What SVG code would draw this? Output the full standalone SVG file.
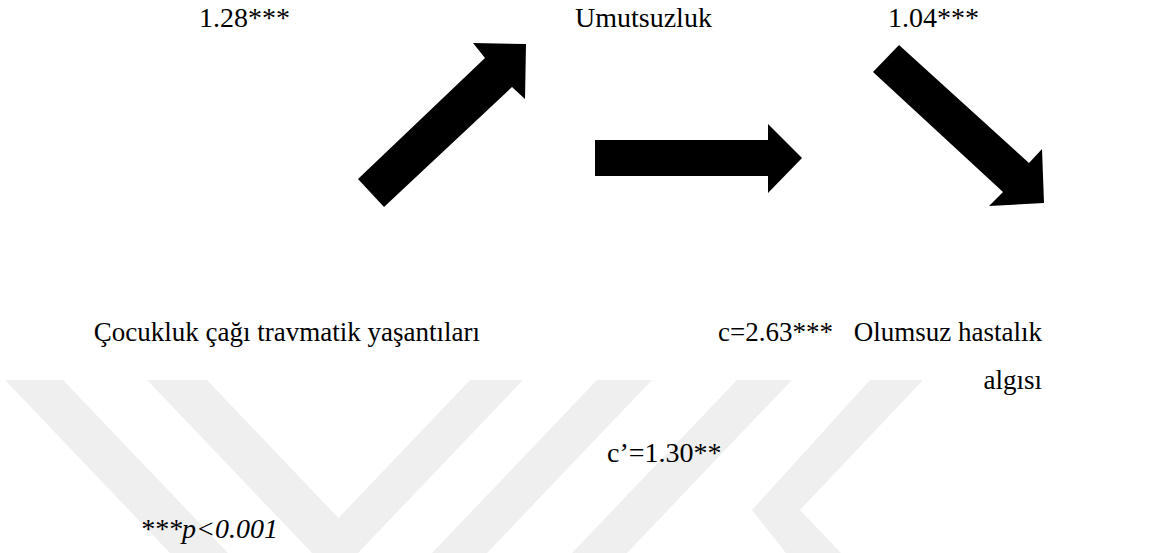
<svg xmlns="http://www.w3.org/2000/svg" width="1152" height="553" viewBox="0 0 1152 553">
  <defs>
    <style>
      .lbl { font-family: "Liberation Serif", "Times New Roman", serif; font-size: 28px; fill: #000; }
      .sm { font-size: 27px; }
      .it { font-style: italic; }
      .arrow { fill: #000; }
      .wm { fill: #efefef; }
    </style>
    <clipPath id="wmClip">
      <rect x="0" y="380" width="1152" height="173"/>
    </clipPath>
  </defs>
  <rect x="0" y="0" width="1152" height="553" fill="#fff"/>

  <!-- light background emblem -->
  <g id="emblem" clip-path="url(#wmClip)">
    <polygon class="wm" points="5,380 63,380 228,553 170,553"/>
    <polygon class="wm" points="147,380 207,380 338.5,518 470,380 523,380 358,553 312,553"/>
    <polygon class="wm" points="597,380 652,380 487,553 432,553"/>
    <polygon class="wm" points="737,380 792,380 627,553 572,553"/>
    <polygon class="wm" points="870,380 923,380 800,510 841,553 786,553 752,510"/>
  </g>

  <!-- connectors -->
  <g id="connectors">
    <polygon id="a-to-umutsuzluk" class="arrow" points="358,179 485,58 473,43 526,44 525,99 512,87 384,207"/>
    <polygon id="a-direct" class="arrow" points="595,140 768,140 768,124 802,158 768,193 768,176 595,176"/>
    <polygon id="a-to-algi" class="arrow" points="899,45 1029,163 1042,149 1044,203 989,206 1003,192 873,72"/>
  </g>

  <g id="node-umutsuzluk">
    <text class="lbl" x="575" y="27">Umutsuzluk</text>
  </g>
  <g id="node-travma">
    <text class="lbl sm" x="480" y="341" text-anchor="end">Çocukluk çağı travmatik yaşantıları</text>
  </g>
  <g id="node-algi">
    <text class="lbl sm" x="1042" y="341" text-anchor="end">Olumsuz hastalık</text>
    <text class="lbl sm" x="1042" y="389" text-anchor="end">algısı</text>
  </g>

  <g id="coefficients">
    <text class="lbl" x="199" y="27">1.28***</text>
    <text class="lbl" x="888" y="27">1.04***</text>
    <text class="lbl sm" x="718" y="341">c=2.63***</text>
    <text class="lbl" x="607" y="462">c’=1.30**</text>
    <text class="lbl it" x="140" y="538">***p&lt;0.001</text>
  </g>
</svg>
